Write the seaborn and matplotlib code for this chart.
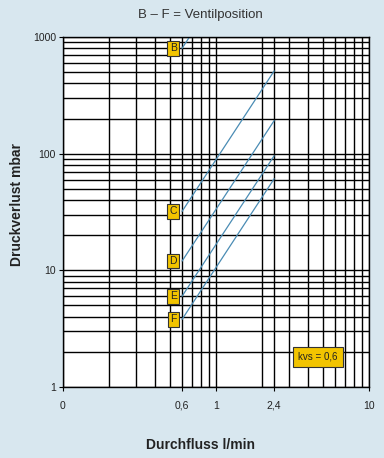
import numpy as np
import pandas as pd
import matplotlib
matplotlib.use("Agg")
import matplotlib.pyplot as plt
import seaborn as sns

# ---- data ----
positions = ["B", "C", "D", "E", "F"]
flow = [0.6, 2.4]                      # l/min, start and end of every line
dp_start = [800, 32, 12, 6, 3.8]       # mbar at 0.6 l/min
dp_end = [12800, 512, 192, 96, 61]     # mbar at 2.4 l/min (B is clipped at 1000)
label_flow = 0.525                     # where the position boxes sit

x_ticks = [0.1, 0.6, 1, 2.4, 10]
x_tick_labels = ["0", "0,6", "1", "2,4", "10"]
x_grid = [0.1, 0.2, 0.3, 0.4, 0.5, 0.6, 0.7, 0.8, 0.9, 1, 2, 2.4, 3, 4, 5, 6, 7, 8, 9, 10]
y_ticks = [1, 10, 100, 1000]
y_tick_labels = ["1", "10", "100", "1000"]
y_grid = [m * d for d in (1, 10, 100) for m in range(1, 10)] + [1000]

title = "B – F = Ventilposition"
xlabel = "Durchfluss l/min"
ylabel = "Druckverlust mbar"
kvs_text = "kvs = 0,6"

rows = []
for p, a, b in zip(positions, dp_start, dp_end):
    rows.append({"pos": p, "flow": flow[0], "dp": a})
    rows.append({"pos": p, "flow": flow[1], "dp": b})
df = pd.DataFrame(rows)

sns.set_theme(style="white")
plt.rcParams["font.family"] = ["Liberation Sans", "DejaVu Sans"]

bg = "#d8e7ef"
fig = plt.figure(figsize=(3.84, 4.58), dpi=100, facecolor=bg)
ax = fig.add_axes([63 / 384, 1 - 387 / 458, 306 / 384, 350 / 458])
ax.set_facecolor("white")

sns.lineplot(data=df, x="flow", y="dp", units="pos", estimator=None,
             color="#4a8cb4", linewidth=0.9, ax=ax, legend=False)

ax.set_xscale("log")
ax.set_yscale("log")
ax.set_xlim(0.1, 10)
ax.set_ylim(1, 1000)

ax.set_xticks(x_ticks)
ax.set_xticklabels(x_tick_labels)
ax.set_xticks(x_grid, minor=True)
ax.set_xticklabels([], minor=True)
ax.set_yticks(y_ticks)
ax.set_yticklabels(y_tick_labels)
ax.set_yticks(y_grid, minor=True)
ax.set_yticklabels([], minor=True)

ax.grid(True, which="both", color="black", linewidth=1.0)
ax.set_axisbelow(True)
ax.tick_params(which="major", direction="out", length=3, width=0.8,
               color="black", labelsize=7.5, pad=2, left=True, bottom=True,
               labelcolor="#222222")
ax.tick_params(axis="x", which="major", pad=7)
ax.tick_params(which="minor", length=0)
for s in ax.spines.values():
    s.set_color("black")
    s.set_linewidth(1.0)

ax.set_xlabel("")
ax.set_ylabel("")

for p, v in zip(positions, dp_start):
    ax.text(label_flow, v, p, ha="center", va="center", fontsize=7.5,
            color="#222222", zorder=5,
            bbox=dict(boxstyle="square,pad=0.22", facecolor="#f2c400",
                      edgecolor="#333333", linewidth=0.8))

ax.text(0.833, 0.086, kvs_text, transform=ax.transAxes, ha="center",
        va="center", fontsize=7, color="#222222", zorder=5,
        bbox=dict(boxstyle="square,pad=0.55", facecolor="#f2c400",
                  edgecolor="#333333", linewidth=0.8))

fig.text(200 / 384, 1 - 15 / 458, title, ha="center", va="center",
         fontsize=9.5, color="#333333")
fig.text(200 / 384, 1 - 445 / 458, xlabel, ha="center", va="center",
         fontsize=10, fontweight="bold", color="#222222")
fig.text(17 / 384, 1 - 205 / 458, ylabel, ha="center", va="center",
         rotation=90, fontsize=10, fontweight="bold", color="#222222")

fig.savefig("out.png", dpi=100, facecolor=bg)
